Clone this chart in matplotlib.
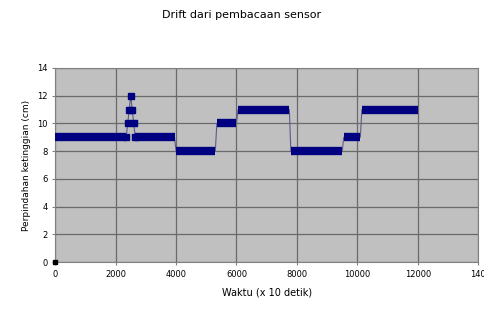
import matplotlib
matplotlib.use("Agg")
import matplotlib.pyplot as plt

# horizontal plateaus of the sensor drift (time in x10 s, level in cm)
seg_start = [0, 2650, 4000, 5350, 6050, 7800, 9550, 10150]
seg_end = [2350, 3950, 5300, 6000, 7750, 9500, 10100, 12000]
seg_level = [9, 9, 8, 10, 11, 8, 9, 11]

# short spike around t = 2500
spike_x = [2350, 2400, 2450, 2500, 2550, 2600, 2650]
spike_y = [9, 10, 11, 12, 11, 10, 9]

# first reading
start_x = [0]
start_y = [0]

xticks = [0, 2000, 4000, 6000, 8000, 10000, 12000, 14000]
yticks = [0, 2, 4, 6, 8, 10, 12, 14]

navy = "#000080"

fig = plt.figure(figsize=(4.84, 3.22), dpi=100)
ax = fig.add_axes([0.114, 0.186, 0.874, 0.603])
ax.set_facecolor("#C0C0C0")

# thin connecting line through all points
line_x = start_x + [seg_start[0]]
line_y = start_y + [seg_level[0]]
for i in range(len(seg_start)):
    if i == 1:
        line_x += spike_x
        line_y += spike_y
    line_x += [seg_start[i], seg_end[i]]
    line_y += [seg_level[i], seg_level[i]]
ax.plot(line_x, line_y, color="#5a5a8a", lw=0.8, zorder=2)

# thick plateaus (dense markers in the original)
ax.hlines(seg_level, seg_start, seg_end, color=navy, lw=6, zorder=3)
ax.plot(spike_x, spike_y, "s", color=navy, ms=4.5, zorder=3)
ax.plot(start_x, start_y, "s", color="black", ms=3, zorder=4, clip_on=False)

ax.set_xlim(0, 14000)
ax.set_ylim(0, 14)
ax.set_xticks(xticks)
ax.set_yticks(yticks)
ax.set_xticklabels([str(t) if t < 14000 else "140" for t in xticks], fontsize=6)
ax.set_yticklabels([str(t) for t in yticks], fontsize=6)
ax.grid(True, color="#6a6a6a", lw=0.9)
ax.set_axisbelow(True)
for s in ax.spines.values():
    s.set_color("#808080")
ax.tick_params(length=2, color="#808080")

ax.set_xlabel("Waktu (x 10 detik)", fontsize=7, labelpad=6)
ax.set_ylabel("Perpindahan ketinggian (cm)", fontsize=6.5)
fig.text(0.5, 0.953, "Drift dari pembacaan sensor", ha="center", va="center",
         fontsize=8)

fig.savefig("out.png", dpi=100)
